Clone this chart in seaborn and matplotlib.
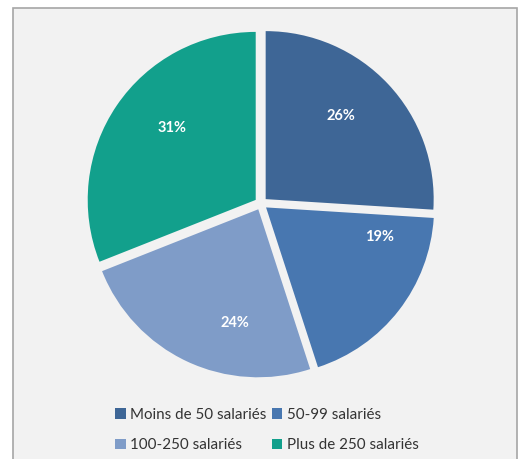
import matplotlib
matplotlib.use("Agg")
import numpy as np
import matplotlib.pyplot as plt
import seaborn as sns
from matplotlib.patches import Rectangle, Patch

# Company size breakdown
categories = ["Moins de 50 salariés", "50-99 salariés", "100-250 salariés", "Plus de 250 salariés"]
shares = [26, 19, 24, 31]
colors = ["#3E6696", "#4877B0", "#7F9CC8", "#12A08C"]

sns.set_theme(style="white")
plt.rcParams["font.family"] = ["Lato", "DejaVu Sans"]

W, H = 518, 459
fig = plt.figure(figsize=(W / 100, H / 100), dpi=100)
fig.patch.set_facecolor("white")

# chart area panel with thin grey border
fig.patches.append(Rectangle((12.5 / W, -0.02), (517 - 12.5) / W, (H - 7.5) / H + 0.02,
                             transform=fig.transFigure, facecolor="#f2f2f2",
                             edgecolor="#a6a6a6", lw=1.2, zorder=-5))

ax = fig.add_axes([0, 0, 1, 1])
ax.patch.set_alpha(0)

radius = 168
wedges, _, autotexts = ax.pie(
    shares, colors=colors, startangle=90, counterclock=False,
    center=(261, H - 203.5), radius=radius, explode=[6.4] * len(shares),
    autopct="%1.0f%%", pctdistance=0.67,
    textprops=dict(color="white", fontweight="bold", fontsize=10.5),
    wedgeprops=dict(linewidth=0),
)
ax.set_xlim(0, W)
ax.set_ylim(0, H)
ax.set_aspect("equal")
ax.axis("off")

# nudge the percentage labels around each wedge (degrees, radius fraction)
label_shift = [4.7, 23.2, 13.5, -6.5]
label_dist = [0.67, 0.70, 0.69, 0.66]
for w, t, s, d in zip(wedges, autotexts, label_shift, label_dist):
    mid = np.deg2rad((w.theta1 + w.theta2) / 2 + s)
    cx, cy = w.center
    t.set_position((cx + d * radius * np.cos(mid), cy + d * radius * np.sin(mid)))

order = [0, 2, 1, 3]
handles = [Patch(facecolor=colors[i], edgecolor="none") for i in order]
fig.legend(handles, [categories[i] for i in order], ncol=2, loc="center",
           bbox_to_anchor=(267 / W, 1 - 430 / H), frameon=False,
           handlelength=0.7, handleheight=0.7, handletextpad=0.3,
           columnspacing=0.35, labelspacing=1.1, fontsize=10.9,
           labelcolor="#333333")

fig.savefig("out.png", dpi=100, facecolor="white")
